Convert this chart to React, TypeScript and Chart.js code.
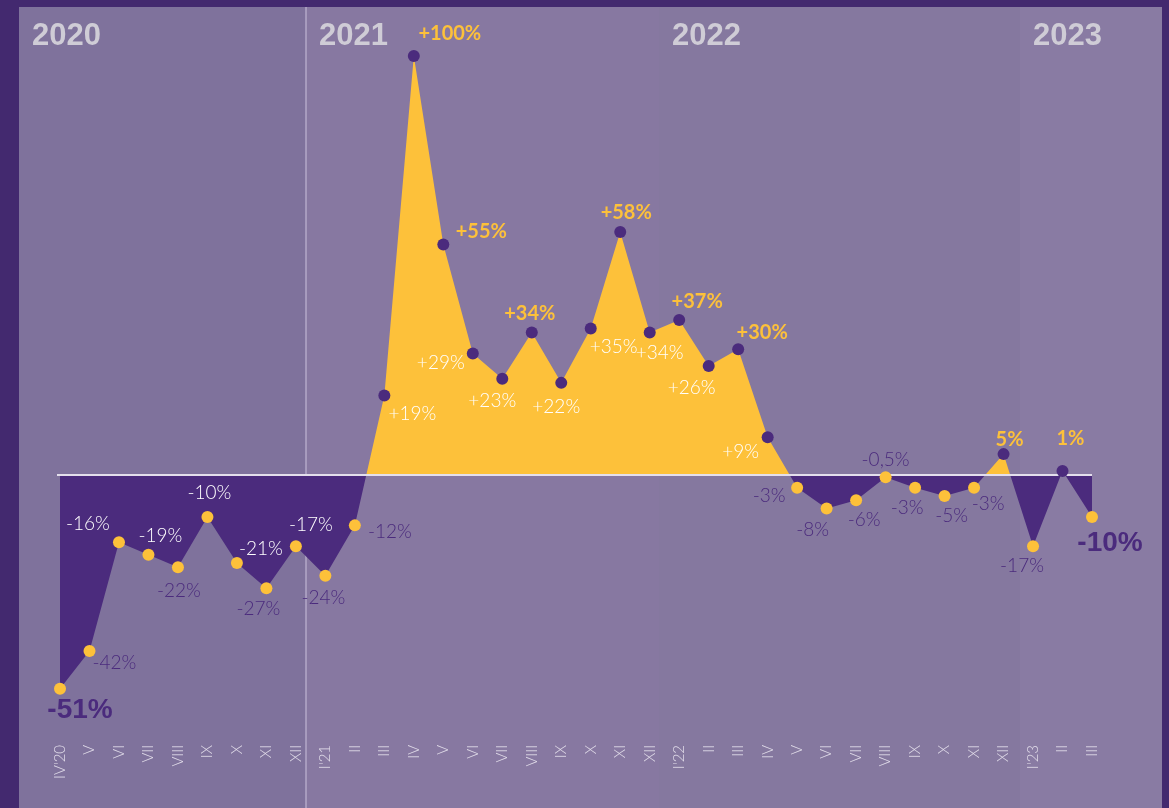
import React, { useEffect, useRef } from "react";
import { Chart, registerables } from "chart.js";

Chart.register(...registerables);

// ---- data ----
const months = [
  "IV'20", "V", "VI", "VII", "VIII", "IX", "X", "XI", "XII",
  "I'21", "II", "III", "IV", "V", "VI", "VII", "VIII", "IX", "X", "XI", "XII",
  "I'22", "II", "III", "IV", "V", "VI", "VII", "VIII", "IX", "X", "XI", "XII",
  "I'23", "II", "III",
];
const values = [
  -51, -42, -16, -19, -22, -10, -21, -27, -17,
  -24, -12, 19, 100, 55, 29, 23, 34, 22, 35, 58, 34,
  37, 26, 30, 9, -3, -8, -6, -0.5, -3, -5, -3, 5,
  -17, 1, -10,
];
const valueLabels = [
  "-51%", "-42%", "-16%", "-19%", "-22%", "-10%", "-21%", "-27%", "-17%",
  "-24%", "-12%", "+19%", "+100%", "+55%", "+29%", "+23%", "+34%", "+22%", "+35%", "+58%", "+34%",
  "+37%", "+26%", "+30%", "+9%", "-3%", "-8%", "-6%", "-0,5%", "-3%", "-5%", "-3%", "5%",
  "-17%", "1%", "-10%",
];
const years = ["2020", "2021", "2022", "2023"];
const yearStartIndex = [0, 9, 21, 33];

// ---- styling (not data) ----
const YELLOW = "#fdc13a";
const PURPLE = "#4b2b7d";
const OUTER = "#43296f";
const PANEL_COLORS = ["#7f729c", "#8778a1", "#85789f", "#897ba3"];
const boundaryShift = [0, -0.65, -0.7, -0.45];

// label placement relative to the point: [dx, dy, style]
const labelPlacement: [number, number, string][] = [
  [20, 21, "big"], [25, 12, "purple"], [-31, -18, "white"], [12, -19, "white"],
  [1, 24, "purple"], [2, -24, "white"], [24, -14, "white"], [-8, 21, "purple"],
  [15, -21, "white"], [-2, 22, "purple"], [35, 7, "purple"], [28, 18, "white"],
  [36, -22, "hi"], [38, -13, "hi"], [-32, 9, "white"], [-10, 22, "white"],
  [-2, -19, "hi"], [-5, 24, "white"], [23, 18, "white"], [6, -19, "hi"],
  [10, 20, "white"], [18, -18, "hi"], [-17, 22, "white"], [24, -17, "hi"],
  [-27, 15, "white"], [-28, 8, "purple"], [-14, 21, "purple"], [8, 20, "purple"],
  [0, -17, "purple"], [-8, 20, "purple"], [7, 20, "purple"], [14, 16, "purple"],
  [6, -15, "hi"], [-11, 20, "purple"], [8, -32, "hi"], [18, 26, "big"],
];

const LIGHT_FAMILY = "'Lato Light', Lato, 'Open Sans', sans-serif";

const labelStyles: Record<string, { font: string; color: string }> = {
  big: { font: "bold 28px 'Liberation Sans', Arial, sans-serif", color: PURPLE },
  hi: { font: "bold 20px Lato, 'Liberation Sans', sans-serif", color: YELLOW },
  white: { font: `300 19px ${LIGHT_FAMILY}`, color: "#ffffff" },
  purple: { font: `300 19px ${LIGHT_FAMILY}`, color: PURPLE },
};

const backgroundPlugin = {
  id: "bgPanels",
  beforeDraw(chart: any) {
    const { ctx, width, height, scales } = chart;
    const x = scales.x;
    const step = x.getPixelForValue(1) - x.getPixelForValue(0);
    ctx.save();
    ctx.fillStyle = OUTER;
    ctx.fillRect(0, 0, width, height);
    const panelLeft = Math.round(chart.chartArea.left - 41);
    const panelRight = Math.round(chart.chartArea.right + 70);
    const top = 7;
    const bounds = yearStartIndex.map((idx, i) =>
      i === 0 ? panelLeft : Math.round(x.getPixelForValue(idx) + boundaryShift[i] * step)
    );
    bounds.push(panelRight);
    for (let i = 0; i < years.length; i++) {
      ctx.fillStyle = PANEL_COLORS[i];
      ctx.fillRect(bounds[i], top, bounds[i + 1] - bounds[i], height - top);
    }
    ctx.font = "bold 31px 'Liberation Sans', Arial, sans-serif";
    ctx.fillStyle = "#cfccd6";
    ctx.textAlign = "left";
    ctx.textBaseline = "alphabetic";
    for (let i = 0; i < years.length; i++) {
      ctx.fillText(years[i], bounds[i] + 13, 45);
    }
    // divider line 2020 | 2021
    ctx.strokeStyle = "#b3a8c9";
    ctx.lineWidth = 1.5;
    ctx.beginPath();
    ctx.moveTo(bounds[1], top);
    ctx.lineTo(bounds[1], height);
    ctx.stroke();
    ctx.restore();
  },
  beforeDatasetDraw(chart: any) {
    const { ctx, chartArea, scales } = chart;
    const y0 = scales.y.getPixelForValue(0);
    ctx.save();
    ctx.strokeStyle = "#e4dfec";
    ctx.lineWidth = 2;
    ctx.beginPath();
    ctx.moveTo(chartArea.left - 3, y0);
    ctx.lineTo(chartArea.right, y0);
    ctx.stroke();
    ctx.restore();
  },
  afterDatasetsDraw(chart: any) {
    const { ctx } = chart;
    const meta = chart.getDatasetMeta(0);
    ctx.save();
    ctx.textAlign = "center";
    ctx.textBaseline = "middle";
    meta.data.forEach((pt: any, i: number) => {
      const [dx, dy, style] = labelPlacement[i];
      const st = labelStyles[style];
      ctx.font = st.font;
      ctx.fillStyle = st.color;
      ctx.fillText(valueLabels[i], pt.x + dx, pt.y + dy);
    });
    ctx.restore();
  },
};

export default function App() {
  const canvasRef = useRef<HTMLCanvasElement | null>(null);

  useEffect(() => {
    const canvas = canvasRef.current;
    if (!canvas) return;
    const chart = new Chart(canvas, {
      type: "line",
      data: {
        labels: months,
        datasets: [
          {
            data: values,
            borderColor: "rgba(0,0,0,0)",
            borderWidth: 0,
            tension: 0,
            fill: { target: "origin", above: YELLOW, below: PURPLE },
            pointRadius: 6,
            pointBorderWidth: 0,
            pointBackgroundColor: values.map((v) => (v > 0 ? PURPLE : YELLOW)),
          },
        ],
      },
      options: {
        animation: false,
        responsive: false,
        devicePixelRatio: 1,
        layout: { padding: { left: 60, right: 77, top: 35, bottom: 27 } },
        plugins: {
          legend: { display: false },
          tooltip: { enabled: false },
        },
        scales: {
          x: {
            offset: false,
            grid: { display: false },
            border: { display: false },
            ticks: {
              autoSkip: false,
              maxRotation: 90,
              minRotation: 90,
              padding: 2,
              color: "#e2ddea",
              font: { family: LIGHT_FAMILY, size: 15, weight: "300" },
            },
          },
          y: { display: false, min: -62, max: 105 },
        },
      },
      plugins: [backgroundPlugin],
    } as any);
    return () => chart.destroy();
  }, []);

  return (
    <div style={{ position: "fixed", left: 0, top: 0, width: 1169, height: 808 }}>
      <canvas ref={canvasRef} width={1169} height={808} style={{ display: "block" }} />
    </div>
  );
}
